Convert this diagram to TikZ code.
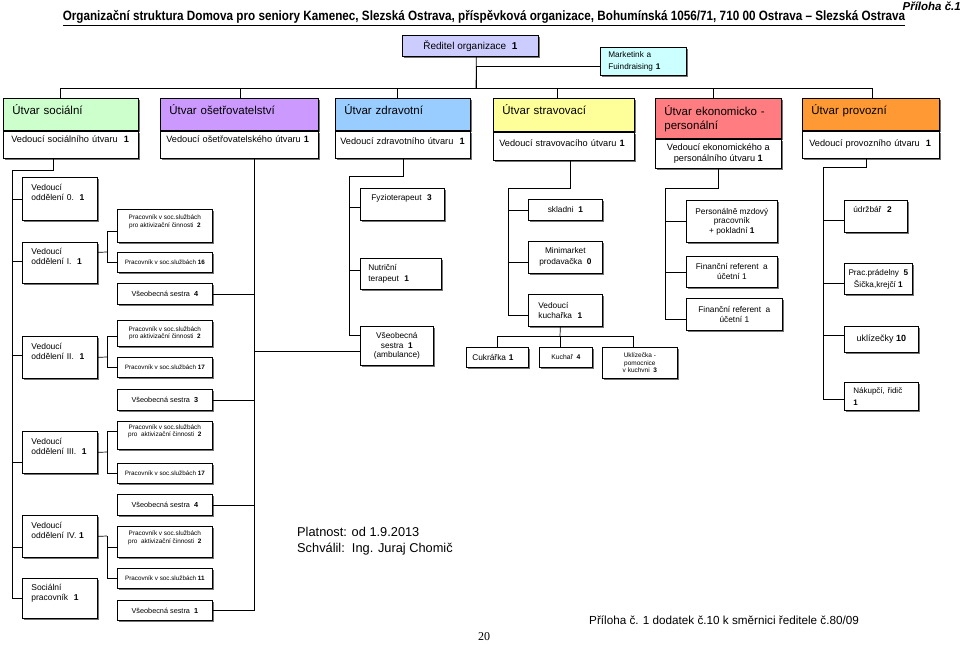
\documentclass[tikz,border=0pt]{standalone}
\usepackage{fontspec}
\setmainfont{Liberation Sans}
\newfontfamily\titlefont[FakeStretch=0.867]{Liberation Sans}
\newfontfamily\pagefont{Liberation Serif}
\usepackage{xcolor}
\usetikzlibrary{shadows}
\definecolor{socgreen}{HTML}{CCFFCC}
\definecolor{osviolet}{HTML}{CC99FF}
\definecolor{zdrblue}{HTML}{99CCFF}
\definecolor{stryellow}{HTML}{FFFF99}
\definecolor{ekred}{HTML}{FF7C80}
\definecolor{provorange}{HTML}{FF9933}
\definecolor{redlav}{HTML}{CCCCFF}
\definecolor{mktcyan}{HTML}{CCFFFF}

\begin{document}
\begin{tikzpicture}[x=1pt,y=-1pt]
\tikzset{box/.style={draw, line width=0.7pt, fill=white, anchor=north west, inner sep=2pt, drop shadow={shadow xshift=2pt, shadow yshift=-2pt, fill=black!55, opacity=1}}}
\tikzset{hbox/.style={box, align=left, inner xsep=9pt, font=\fontsize{11.5}{14}\selectfont}}
\tikzset{lbox/.style={box, align=left, font=\fontsize{9.2}{11}\selectfont}}
\tikzset{obox/.style={box, align=left, inner xsep=9pt, text width=57pt, minimum width=75pt, font=\fontsize{8.5}{9.6}\selectfont}}
\tikzset{abox/.style={box, align=center, minimum width=95pt, font=\fontsize{6.4}{7.5}\selectfont}}
\tikzset{nbox/.style={box, align=center, minimum width=95pt, font=\fontsize{7.3}{8.5}\selectfont}}
\tikzset{mbox/.style={box, align=center, font=\fontsize{8.3}{10}\selectfont}}
\tikzset{conn/.style={line width=0.7pt}}

\useasboundingbox (0,0) rectangle (960,645);

\node[font=\titlefont\bfseries\fontsize{13.5}{16}\selectfont] (title) at (484,18) {\underline{Organizační struktura Domova pro seniory Kamenec,  Slezská Ostrava, příspěvková organizace, Bohumínská 1056/71, 710 00 Ostrava – Slezská Ostrava}};
\node[anchor=east, inner sep=0pt, font=\bfseries\itshape\fontsize{11.5}{13}\selectfont] (pril) at (961,6) {Příloha č.1};

\node[box, fill=redlav, minimum width=136pt, minimum height=21pt, font=\fontsize{10}{12}\selectfont] (reditel) at (402,35) {Ředitel organizace~~\textbf{1}};
\node[box, fill=mktcyan, minimum width=86pt, minimum height=28pt, text width=70pt, inner xsep=8pt, align=left, font=\fontsize{8.2}{12}\selectfont] (mkt) at (600,47) {Marketink a\\Fuindraising \textbf{1}};

\node[hbox, fill=socgreen, minimum width=135pt, minimum height=32pt, text width=117pt, text depth=10.5pt] (socH) at (3,98) {Útvar sociální};
\node[lbox, minimum width=135pt, minimum height=27pt, text width=119pt, inner xsep=8pt, text depth=11pt] (soc) at (socH.south west) {Vedoucí sociálního útvaru~~\textbf{1}};
\node[hbox, fill=osviolet, minimum width=158pt, minimum height=32pt, text width=140pt, text depth=10.5pt] (oseH) at (160,98) {Útvar ošetřovatelství};
\node[lbox, minimum width=158pt, minimum height=27pt, text width=146pt, inner xsep=6pt, text depth=11pt] (ose) at (oseH.south west) {Vedoucí ošetřovatelského útvaru \textbf{1}};
\node[hbox, fill=zdrblue, minimum width=135pt, minimum height=32pt, text width=117pt, text depth=10.5pt] (zdrH) at (335,98) {Útvar zdravotní};
\node[lbox, minimum width=135pt, minimum height=27pt, text width=125pt, inner xsep=5pt, text depth=6pt] (zdr) at (zdrH.south west) {Vedoucí zdravotního útvaru~~\textbf{1}};
\node[hbox, fill=stryellow, minimum width=141pt, minimum height=33pt, text width=123pt, text depth=10.5pt] (strH) at (493,98) {Útvar stravovací};
\node[lbox, minimum width=141pt, minimum height=28pt, text width=129pt, inner xsep=6pt, text depth=6pt] (str) at (strH.south west) {Vedoucí stravovacího útvaru \textbf{1}};
\node[hbox, fill=ekred, minimum width=126pt, minimum height=40pt, text width=108pt] (ekH) at (655,98) {Útvar ekonomicko -\\personální};
\node[box, align=center, minimum width=126pt, minimum height=29pt, font=\fontsize{9.2}{11}\selectfont] (ek) at (ekH.south west) {Vedoucí ekonomického a\\personálního útvaru \textbf{1}};
\node[hbox, fill=provorange, minimum width=137pt, minimum height=32pt, text width=119pt, text depth=10.5pt] (provH) at (802,98) {Útvar provozní};
\node[lbox, minimum width=137pt, minimum height=27pt, text width=123pt, inner xsep=7pt] (prov) at (provH.south west) {Vedoucí provozního útvaru~~\textbf{1}};

\node[obox, minimum height=43pt] (odd0) at (22,177) {Vedoucí\\oddělení 0.~~\textbf{1}\\\strut};
\node[obox, minimum height=41pt] (odd1) at (22,242) {Vedoucí\\oddělení I.~~\textbf{1}\\\strut};
\node[obox, minimum height=42pt] (odd2) at (22,336) {Vedoucí\\oddělení II.~~\textbf{1}\\\strut};
\node[obox, minimum height=42pt] (odd3) at (22,431) {Vedoucí\\oddělení III.~~\textbf{1}\\\strut};
\node[obox, minimum height=42pt] (odd4) at (22,515) {Vedoucí\\oddělení IV. \textbf{1}\\\strut};
\node[obox, minimum height=40pt] (socp) at (22,578) {Sociální\\pracovník~~\textbf{1}\\\strut};

\node[abox, minimum height=33pt] (a1) at (117,209) {Pracovník v soc.službách\\pro aktivizační činnosti~~\textbf{2}\\\strut};
\node[abox, minimum height=20pt, font=\fontsize{6.3}{7.5}\selectfont] (b1) at (117,252) {Pracovník v soc.službách \textbf{16}};
\node[nbox, minimum height=21pt] (n1) at (117,283) {Všeobecná sestra~~\textbf{4}};
\node[abox, minimum height=26pt] (a2) at (117,320) {Pracovník v soc.službách\\pro aktivizační činnosti~~\textbf{2}};
\node[abox, minimum height=20pt, font=\fontsize{6.3}{7.5}\selectfont] (b2) at (117,357) {Pracovník v soc.službách \textbf{17}};
\node[nbox, minimum height=21pt] (n2) at (117,389) {Všeobecná sestra~~\textbf{3}};
\node[abox, minimum height=28pt] (a3) at (117,421) {Pracovník v soc.službách\\pro~~aktivizační činnosti~~\textbf{2}\\\strut};
\node[abox, minimum height=20pt, font=\fontsize{6.3}{7.5}\selectfont] (b3) at (117,463) {Pracovník v soc.službách \textbf{17}};
\node[nbox, minimum height=21pt] (n3) at (117,494) {Všeobecná sestra~~\textbf{4}};
\node[abox, minimum height=31pt] (a4) at (117,526) {Pracovník v soc.službách\\pro~~aktivizační činnosti~~\textbf{2}\\\strut};
\node[abox, minimum height=20pt, font=\fontsize{6.3}{7.5}\selectfont] (b4) at (117,568) {Pracovník v soc.službách \textbf{11}};
\node[nbox, minimum height=20pt] (n4) at (117,600) {Všeobecná sestra~~\textbf{1}};

\node[mbox, align=left, minimum width=84pt, minimum height=32pt, inner xsep=11pt, text width=62pt] (fyz) at (360,188) {Fyzioterapeut~~\textbf{3}\\\strut};
\node[mbox, align=left, minimum width=81pt, minimum height=31pt, inner xsep=8pt, text width=65pt, font=\fontsize{8.3}{11}\selectfont] (nut) at (360,258) {Nutriční\\terapeut~~\textbf{1}};
\node[mbox, minimum width=73pt, minimum height=39pt, font=\fontsize{8.3}{9.5}\selectfont] (amb) at (360,326) {Všeobecná\\sestra~~\textbf{1}\\(ambulance)};

\node[mbox, minimum width=74pt, minimum height=21pt] (skl) at (528,199) {skladni~~\textbf{1}};
\node[mbox, minimum width=74pt, minimum height=32pt, font=\fontsize{8.3}{11}\selectfont] (mini) at (528,241) {Minimarket\\prodavačka~~\textbf{0}};
\node[mbox, align=left, minimum width=74pt, minimum height=32pt, inner xsep=10pt, text width=54pt, font=\fontsize{8.3}{9.5}\selectfont] (vkuch) at (528,294) {Vedoucí\\kuchařka~~\textbf{1}};
\node[mbox, align=left, minimum width=62pt, minimum height=20pt, inner xsep=6pt, text width=50pt] (cuk) at (466,347) {Cukrářka \textbf{1}};
\node[mbox, minimum width=53pt, minimum height=20pt, font=\fontsize{6.8}{8}\selectfont] (kuchar) at (539,347) {Kuchař~~\textbf{4}};
\node[mbox, minimum width=75pt, minimum height=31pt, font=\fontsize{6.5}{7.5}\selectfont] (ukl) at (602,347) {Uklízečka -\\pomocnice\\v kuchvni~~\textbf{3}};

\node[mbox, minimum width=91pt, minimum height=42pt, font=\fontsize{8.3}{9.5}\selectfont] (pers) at (686,200) {Personálně mzdový\\pracovník\\+ pokladní \textbf{1}};
\node[mbox, minimum width=91pt, minimum height=31pt] (fin1) at (686,256) {Finanční referent~~a\\účetní 1};
\node[mbox, minimum width=96pt, minimum height=32pt] (fin2) at (686,298) {Finanční referent~~a\\účetní 1};

\node[mbox, align=left, minimum width=63pt, minimum height=32pt, inner xsep=9pt, text width=45pt] (udr) at (844,200) {údržbář~~\textbf{2}\\\strut};
\node[mbox, minimum width=68pt, minimum height=31pt, font=\fontsize{8.2}{12}\selectfont] (prad) at (844,263) {Prac.prádelny~~\textbf{5}\\Šička,krejčí \textbf{1}};
\node[mbox, minimum width=74pt, minimum height=26pt, font=\fontsize{9}{11}\selectfont] (ukl10) at (844,326) {uklízečky \textbf{10}};
\node[mbox, align=left, minimum width=74pt, minimum height=28pt, inner xsep=9pt, text width=56pt, font=\fontsize{8}{12}\selectfont] (nak) at (844,382) {Nákupčí, řidič\\\textbf{1}};

\node[anchor=west, align=left, inner sep=0pt, font=\fontsize{12.8}{16}\selectfont] (plat) at (297,541) {Platnost: od 1.9.2013\\Schválil:~~Ing. Juraj Chomič};
\node[anchor=west, inner sep=0pt, font=\fontsize{11.7}{14}\selectfont] (dod) at (589,620) {Příloha č. 1 dodatek č.10 k směrnici ředitele č.80/09};
\node[inner sep=0pt, font=\pagefont\fontsize{12}{14}\selectfont] (pg) at (484,637) {20};

\coordinate (bus) at (476,88);
\coordinate (sv) at (12,170);
\coordinate (zv) at (349,176);
\coordinate (stv) at (508,188);
\coordinate (kj) at (560,336);
\coordinate (ev) at (665,188);
\coordinate (pv) at (823,167);
\coordinate (j1) at (107,252);
\coordinate (j2) at (107,357);
\coordinate (j3) at (107,452);
\coordinate (j4) at (107,536);

\draw[conn] ([xshift=6pt]reditel.south) -- (bus);
\draw[conn] ([yshift=-5pt]mkt.west) -| (bus);
\foreach \n/\s in {socH/-10.5, oseH/1, zdrH/-5.5, strH/-6.5, ekH/-5, provH/1.5}
  \draw[conn] ([xshift=\s pt]\n.north) |- (bus);

\draw[conn] ([xshift=-17.5pt]soc.south) |- (sv);
\foreach \n/\s in {odd0/0, odd1/1.5, odd2/2, odd3/-10, odd4/-11, socp/0}
  \draw[conn] ([yshift=\s pt]\n.west) -| (sv);
\draw[conn] ([yshift=10.5pt]odd1.east) -- (j1);
\draw[conn] ([yshift=-5.5pt]a1.west) -| (j1);
\draw[conn] (b1.west) -| (j1);
\draw[conn] (odd2.east) -- (j2);
\draw[conn] ([yshift=-3pt]a2.west) -| (j2);
\draw[conn] (b2.west) -| (j2);
\draw[conn] (odd3.east) -- (j3);
\draw[conn] ([yshift=4pt]a3.west) -| (j3);
\draw[conn] (b3.west) -| (j3);
\draw[conn] (odd4.east) -- (j4);
\draw[conn] ([yshift=-5.5pt]a4.west) -| (j4);
\draw[conn] (b4.west) -| (j4);

\foreach \n in {n1, n2, n3, n4}
  \draw[conn] (\n.east) -| ([xshift=15pt]ose.south);
\draw[conn] ([yshift=-5.5pt]amb.west) -| ([xshift=15pt]ose.south);

\draw[conn] (zdr.south) |- (zv);
\draw[conn] ([yshift=-3pt]fyz.west) -| (zv);
\draw[conn] ([yshift=3.5pt]nut.west) -| (zv);
\draw[conn] ([yshift=10.5pt]amb.west) -| (zv);

\draw[conn] ([xshift=6.5pt]str.south) |- (stv);
\draw[conn] (skl.west) -| (stv);
\draw[conn] ([yshift=-5pt]mini.west) -| (stv);
\draw[conn] ([yshift=-5pt]vkuch.west) -| (stv);
\draw[conn] ([xshift=-5pt]vkuch.south) -- (kj);
\draw[conn] (cuk.north) |- (kj);
\draw[conn] ([xshift=-5.5pt]kuchar.north) |- (kj);
\draw[conn] ([xshift=-6.5pt]ukl.north) |- (kj);

\draw[conn] (ek.south) |- (ev);
\draw[conn] (pers.west) -| (ev);
\draw[conn] (fin1.west) -| (ev);
\draw[conn] ([yshift=-5pt]fin2.west) -| (ev);

\draw[conn] ([xshift=-4.5pt]prov.south) |- (pv);
\draw[conn] ([yshift=-4pt]udr.west) -| (pv);
\draw[conn] ([yshift=-4.5pt]prad.west) -| (pv);
\draw[conn] ([yshift=4pt]ukl10.west) -| (pv);
\draw[conn] ([yshift=-3pt]nak.west) -| (pv);

\end{tikzpicture}
\end{document}
